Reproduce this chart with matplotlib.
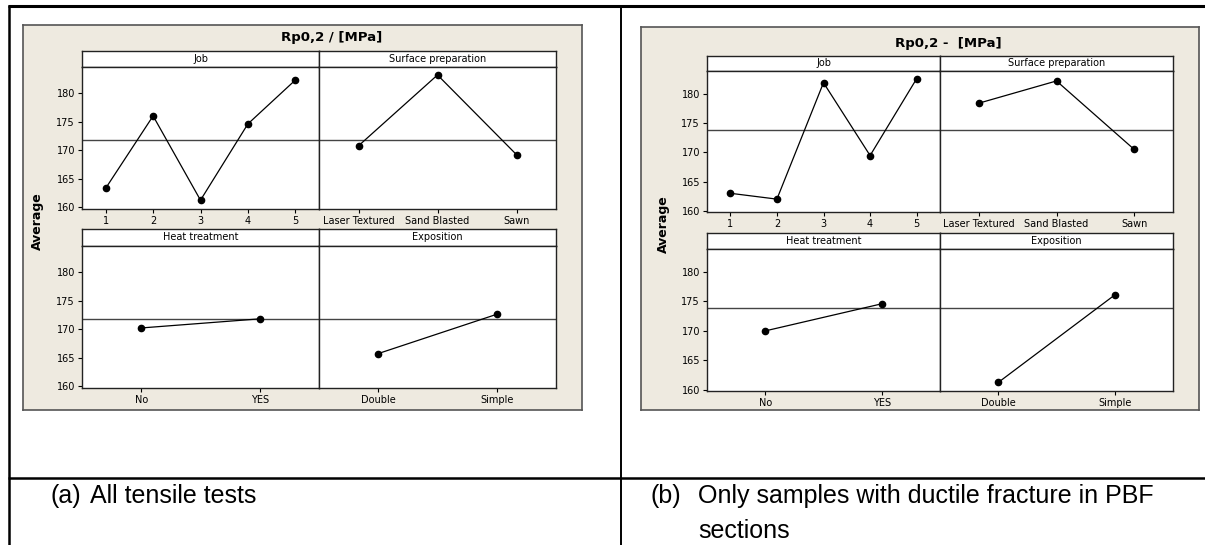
import matplotlib
matplotlib.use("Agg")
import matplotlib.pyplot as plt
from matplotlib.lines import Line2D

# ---------------- data ----------------
job_levels = ['1', '2', '3', '4', '5']
surface_levels = ['Laser Textured', 'Sand Blasted', 'Sawn']
heat_levels = ['No', 'YES']
expo_levels = ['Double', 'Simple']
y_ticks = [160, 165, 170, 175, 180]

a_job = [163.3, 176.0, 161.2, 174.6, 182.3]
a_surface = [170.75, 183.2, 169.2]
a_heat = [170.2, 171.8]
a_expo = [165.7, 172.6]
a_mean = 171.7

b_job = [163.0, 162.0, 181.9, 169.45, 182.6]
b_surface = [178.4, 182.2, 170.5]
b_heat = [170.0, 174.6]
b_expo = [161.25, 176.1]
b_mean = 173.85

title_a = 'Rp0,2 / [MPa]'
title_b = 'Rp0,2 -  [MPa]'
label_a = '(a)'
caption_a = 'All tensile tests'
label_b = '(b)'
caption_b_1 = 'Only samples with ductile fracture in PBF'
caption_b_2 = 'sections'

W, H = 1205, 545
fig = plt.figure(figsize=(W / 100, H / 100), dpi=100)
fig.patch.set_facecolor('white')

BEIGE = '#EEEAE0'
FONT = ['DejaVu Sans']


def box(x0, y0, x1, y1):
    return [x0 / W, 1 - y1 / H, (x1 - x0) / W, (y1 - y0) / H]


def fline(xs, ys, lw, color='black'):
    fig.add_artist(Line2D([x / W for x in xs], [1 - y / H for y in ys],
                          transform=fig.transFigure, lw=lw, color=color,
                          solid_capstyle='butt'))


def panel(frame, cols, top, bottom, ylim, title, title_xy, data, mean, avg_x):
    fx0, fy0, fx1, fy1 = frame
    bg = fig.add_axes(box(fx0, fy0, fx1, fy1))
    bg.set_facecolor(BEIGE)
    bg.set_xticks([]); bg.set_yticks([])
    for s in bg.spines.values():
        s.set_color('#555555'); s.set_linewidth(1.2)
    bg.set_zorder(0)
    fig.text(title_xy[0] / W, 1 - title_xy[1] / H, title, ha='center', va='center',
             fontsize=9.5, fontweight='bold', family=FONT)
    fig.text(avg_x / W, 1 - ((top[2] + bottom[0]) / 2 + 2) / H, 'Average', rotation=90,
             ha='center', va='center', fontsize=9, fontweight='bold', family=FONT)
    rows = [top, bottom]
    names = [['Job', 'Surface preparation'], ['Heat treatment', 'Exposition']]
    for r, (s0, s1, p1) in enumerate(rows):
        for c in range(2):
            x0, x1 = cols[c], cols[c + 1]
            levels, vals = data[r][c]
            # strip
            st = fig.add_axes(box(x0, s0, x1, s1))
            st.set_facecolor('white')
            st.set_xticks([]); st.set_yticks([])
            for sp in st.spines.values():
                sp.set_linewidth(1.0); sp.set_color('#222222')
            st.text(0.5, 0.5, names[r][c], ha='center', va='center',
                    fontsize=7, family=FONT, transform=st.transAxes)
            st.set_zorder(2)
            # plot
            ax = fig.add_axes(box(x0, s1, x1, p1))
            ax.set_zorder(2)
            ax.set_facecolor('white')
            pos = list(range(1, len(levels) + 1))
            ax.axhline(mean, color='#444444', lw=1.0)
            ax.plot(pos, vals, color='black', lw=0.9, marker='o', markersize=4.5)
            ax.set_xlim(0.5, len(levels) + 0.5)
            ax.set_ylim(*ylim)
            ax.set_xticks(pos)
            ax.set_xticklabels(levels, fontsize=7, family=FONT)
            ax.tick_params(axis='x', length=3, width=0.8, pad=2, direction='out')
            if c == 0:
                ax.set_yticks(y_ticks)
                ax.set_yticklabels([str(t) for t in y_ticks], fontsize=7, family=FONT)
                ax.tick_params(axis='y', length=3, width=0.8, pad=2, direction='out')
            else:
                ax.set_yticks([])
            for sp in ax.spines.values():
                sp.set_linewidth(1.0); sp.set_color('#222222')


data_a = [[(job_levels, a_job), (surface_levels, a_surface)],
          [(heat_levels, a_heat), (expo_levels, a_expo)]]
data_b = [[(job_levels, b_job), (surface_levels, b_surface)],
          [(heat_levels, b_heat), (expo_levels, b_expo)]]

panel((23, 25, 582, 410), [82, 319, 556], (51, 67, 209), (229, 246, 388),
      (159.65, 184.6), title_a, (332, 37), data_a, a_mean, 37)
panel((641, 27, 1199, 410), [707, 940, 1173], (56, 71, 212), (233, 249, 391),
      (159.8, 183.9), title_b, (948, 43), data_b, b_mean, 663)

# table lines
fline([8, 1205], [5.5, 5.5], 2.2)
fline([8.5, 8.5], [4.5, 545], 1.8)
fline([621, 621], [4.5, 545], 1.4)
fline([8, 1205], [478, 478], 1.8)

# captions
CAP = ['Liberation Sans', 'DejaVu Sans']
CS = 18
fig.text(50 / W, 1 - 496 / H, label_a, ha='left', va='center', fontsize=CS, family=CAP)
fig.text(90 / W, 1 - 496 / H, caption_a, ha='left', va='center', fontsize=CS, family=CAP)
fig.text(650 / W, 1 - 496 / H, label_b, ha='left', va='center', fontsize=CS, family=CAP)
fig.text(698 / W, 1 - 496 / H, caption_b_1, ha='left', va='center', fontsize=CS, family=CAP)
fig.text(698 / W, 1 - 531 / H, caption_b_2, ha='left', va='center', fontsize=CS, family=CAP)

fig.savefig('out.png', dpi=100)
